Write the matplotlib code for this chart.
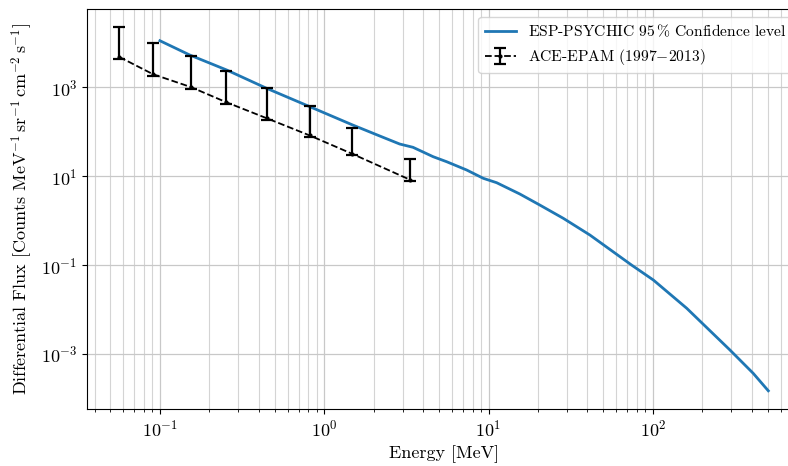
import matplotlib

matplotlib.use("Agg")
import matplotlib.pyplot as plt  # noqa: E402
from matplotlib.ticker import NullLocator  # noqa: E402

plt.rcParams["font.family"] = ["cmr10", "DejaVu Serif"]
plt.rcParams["mathtext.fontset"] = "cm"
plt.rcParams["axes.formatter.use_mathtext"] = True

# ESP-PSYCHIC 95% confidence level curve (MeV, counts / (MeV sr cm^2 s))
esp_energy = [0.1, 0.152, 0.255, 0.446, 0.818, 1.49, 2.18, 2.88, 3.47, 4.60, 5.56,
              7.36, 9.29, 11.2, 15.5, 20.5, 28.5, 41.4, 74.3, 100.7, 160.7,
              193.6, 294.6, 408.0, 504.0]
esp_flux = [11170, 5330, 2450, 950, 366, 142, 80.2, 53.0, 44.7, 27.5, 21.2,
            13.8, 8.97, 7.15, 3.98, 2.25, 1.13, 0.475, 0.1, 0.0462, 0.0107,
            0.0055, 0.00123, 0.000368, 0.000149]

# ACE-EPAM 1997-2013 channels
epam_energy = [0.0566, 0.091, 0.154, 0.252, 0.449, 0.816, 1.48, 3.31]
epam_flux = [4820, 1963, 1016, 466, 200, 82.6, 31.9, 8.4]
epam_upper = [22900, 9980, 5080, 2300, 948, 372, 119, 23.8]
epam_lower = [4250, 1800, 930, 430, 185, 76, 29.5, 7.8]

fig = plt.figure(figsize=(7.88, 4.66), dpi=100)
# right edge sits past the figure border, as in the reference crop
ax = fig.add_axes([0.1104, 0.1223, 0.906, 0.8584])

ax.plot(esp_energy, esp_flux, color="#1f77b4", lw=2, label=r"ESP-PSYCHIC 95$\,\%$ Confidence level")
yerr = [[f - lo for f, lo in zip(epam_flux, epam_lower)],
        [up - f for f, up in zip(epam_flux, epam_upper)]]
ax.errorbar(epam_energy, epam_flux, yerr=yerr, fmt="--", color="black", marker=".", ms=4,
            lw=1.3, elinewidth=1.6, capsize=4, capthick=1.6, label=r"ACE-EPAM (1997$-$2013)")

ax.set_xscale("log")
ax.set_yscale("log")
ax.set_xlim(0.036, 796)
ax.set_ylim(5.8e-5, 5.78e4)
ax.set_yticks([1e-3, 1e-1, 1e1, 1e3])
ax.yaxis.set_minor_locator(NullLocator())

ax.grid(True, which="major", color="#c8c8c8", lw=0.9)
ax.grid(True, which="minor", axis="x", color="#d4d4d4", lw=0.8)
ax.set_axisbelow(True)

ax.tick_params(labelsize=13)
ax.set_xlabel("Energy [MeV]", fontsize=13)
ax.set_ylabel(r"Differential Flux [Counts MeV$^{-1}\,$sr$^{-1}\,$cm$^{-2}\,$s$^{-1}$]", fontsize=13)
ax.legend(loc="upper right", fontsize=11.2, framealpha=0.8)

fig.savefig("out.png", dpi=100)
